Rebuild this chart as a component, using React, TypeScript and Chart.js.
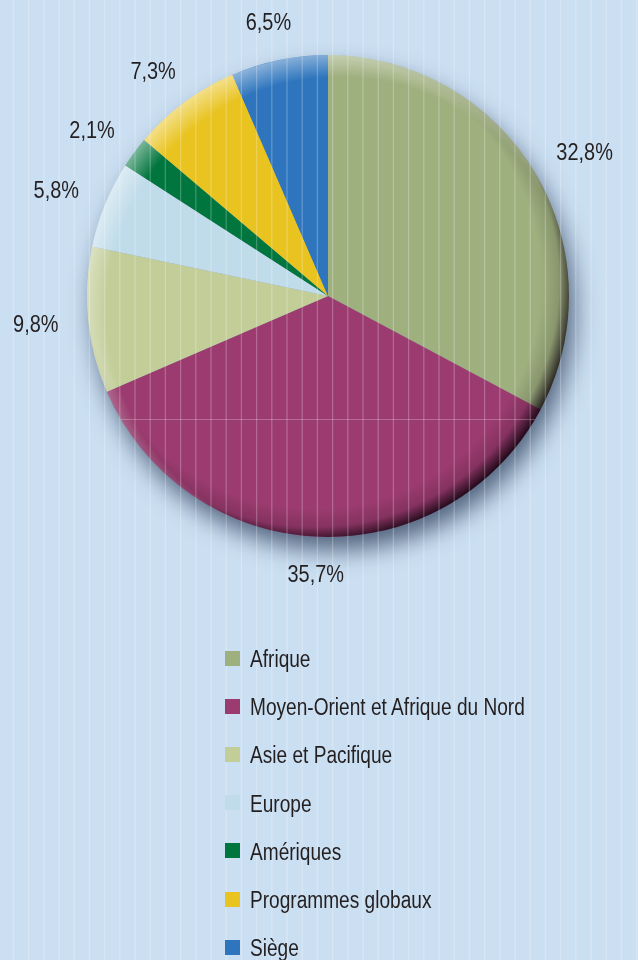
import React, { useEffect, useRef } from "react";
import { Chart, registerables } from "chart.js";

Chart.register(...registerables);

const categories = [
  "Afrique",
  "Moyen-Orient et Afrique du Nord",
  "Asie et Pacifique",
  "Europe",
  "Amériques",
  "Programmes globaux",
  "Siège",
];
const shares = [32.8, 35.7, 9.8, 5.8, 2.1, 7.3, 6.5];
const shareLabels = ["32,8%", "35,7%", "9,8%", "5,8%", "2,1%", "7,3%", "6,5%"];
const sliceColors = ["#9fb07f", "#9b3b6f", "#c2cd98", "#c0dcea", "#00753d", "#e9c31f", "#2e75bd"];

const BG = "#cbdff2";
const TEXT = "#231f20";
const FONT = "'Liberation Sans', Arimo, Arial, sans-serif";
const NARROW = 0.83;

const decorPlugin = {
  id: "decor",
  beforeDraw(chart: any) {
    const { ctx, width, height } = chart;
    ctx.save();
    ctx.fillStyle = BG;
    ctx.fillRect(0, 0, width, height);
    ctx.restore();
  },
  beforeDatasetsDraw(chart: any) {
    const { ctx } = chart;
    const a = chart.getDatasetMeta(0).data[0];
    if (!a) return;
    const { x, y, outerRadius: r } = a.getProps(["x", "y", "outerRadius"], true);
    ctx.save();
    ctx.shadowColor = "rgba(40,58,85,0.75)";
    ctx.shadowBlur = 24;
    ctx.shadowOffsetX = 6;
    ctx.shadowOffsetY = 14;
    ctx.beginPath();
    ctx.arc(x, y, r - 1, 0, Math.PI * 2);
    ctx.fillStyle = "#8a9bb0";
    ctx.fill();
    ctx.restore();
  },
  afterDatasetsDraw(chart: any) {
    const { ctx, width, height } = chart;
    const meta = chart.getDatasetMeta(0);
    const a = meta.data[0];
    if (!a) return;
    const { x, y, outerRadius: r } = a.getProps(["x", "y", "outerRadius"], true);

    // 3D shading clipped to the pie
    ctx.save();
    ctx.beginPath();
    ctx.arc(x, y, r, 0, Math.PI * 2);
    ctx.clip();
    const d1 = 14;
    const R1 = r + 20;
    const g1 = ctx.createRadialGradient(x - d1, y - d1, 0, x - d1, y - d1, R1);
    g1.addColorStop((r - 14) / R1, "rgba(10,0,10,0)");
    g1.addColorStop((r + 4) / R1, "rgba(10,0,10,0.15)");
    g1.addColorStop(1, "rgba(10,0,10,0.85)");
    ctx.fillStyle = g1;
    ctx.fillRect(x - r - 2, y - r - 2, 2 * r + 4, 2 * r + 4);
    const g2 = ctx.createRadialGradient(x + 12, y + 14, 0, x + 12, y + 14, R1);
    g2.addColorStop((r - 8) / R1, "rgba(255,255,255,0)");
    g2.addColorStop(1, "rgba(255,255,255,0.5)");
    ctx.fillStyle = g2;
    ctx.fillRect(x - r - 2, y - r - 2, 2 * r + 4, 2 * r + 4);
    // faint horizontal guide inside the pie
    ctx.strokeStyle = "rgba(255,255,255,0.25)";
    ctx.lineWidth = 1.2;
    ctx.beginPath();
    ctx.moveTo(x - r, 419.5);
    ctx.lineTo(x + r, 419.5);
    ctx.stroke();
    ctx.restore();

    // vertical stripes across the page
    ctx.save();
    ctx.strokeStyle = "rgba(255,255,255,0.24)";
    ctx.lineWidth = 1.3;
    for (let sx = 13.4; sx < width; sx += 15.2) {
      ctx.beginPath();
      ctx.moveTo(sx, 0);
      ctx.lineTo(sx, height);
      ctx.stroke();
    }
    ctx.restore();

    // percentage labels outside the slices
    ctx.save();
    ctx.font = `24px ${FONT}`;
    ctx.fillStyle = TEXT;
    ctx.textAlign = "center";
    ctx.textBaseline = "middle";
    meta.data.forEach((arc: any, i: number) => {
      const p = arc.getProps(["x", "y", "startAngle", "endAngle", "outerRadius"], true);
      const mid = (p.startAngle + p.endAngle) / 2;
      const c = Math.cos(mid);
      const s = Math.sin(mid);
      const txt = shareLabels[i];
      const w = ctx.measureText(txt).width * NARROW;
      const dist = p.outerRadius + 28;
      const tx = p.x + dist * c + (w / 2 + 2) * c;
      const ty = p.y + dist * s + 10 * s;
      ctx.save();
      ctx.translate(tx, ty + 1);
      ctx.scale(NARROW, 1);
      ctx.fillText(txt, 0, 0);
      ctx.restore();
    });
    ctx.restore();
  },
};

export default function App() {
  const ref = useRef<HTMLCanvasElement | null>(null);

  useEffect(() => {
    document.body.style.margin = "0";
    const canvas = ref.current;
    if (!canvas) return;
    const chart = new Chart(canvas, {
      type: "pie",
      data: {
        labels: categories,
        datasets: [
          {
            data: shares,
            backgroundColor: sliceColors,
            borderWidth: 0,
          },
        ],
      },
      options: {
        animation: false,
        responsive: true,
        maintainAspectRatio: false,
        layout: { padding: { left: 87, right: 69, top: 55, bottom: 423 } },
        plugins: {
          legend: { display: false },
          tooltip: { enabled: false },
        },
      },
      plugins: [decorPlugin],
    });
    return () => chart.destroy();
  }, []);

  return (
    <div style={{ position: "absolute", left: 0, top: 0, width: 638, height: 960, overflow: "hidden", background: BG }}>
      <canvas ref={ref} style={{ position: "absolute", left: 0, top: 0, width: 638, height: 960 }} />
      <div style={{ position: "absolute", left: 225, top: 634, display: "flex", flexDirection: "column" }}>
        {categories.map((c, i) => (
          <div key={c} style={{ height: 48.2, display: "flex", alignItems: "center" }}>
            <span style={{ width: 15, height: 15, background: sliceColors[i], display: "inline-block", flex: "none" }} />
            <span
              style={{
                marginLeft: 10,
                fontFamily: FONT,
                fontSize: 23,
                color: TEXT,
                lineHeight: "24px",
                whiteSpace: "nowrap",
                position: "relative",
                top: 1,
                display: "inline-block",
                transform: `scaleX(${NARROW})`,
                transformOrigin: "left center",
              }}
            >
              {c}
            </span>
          </div>
        ))}
      </div>
    </div>
  );
}
